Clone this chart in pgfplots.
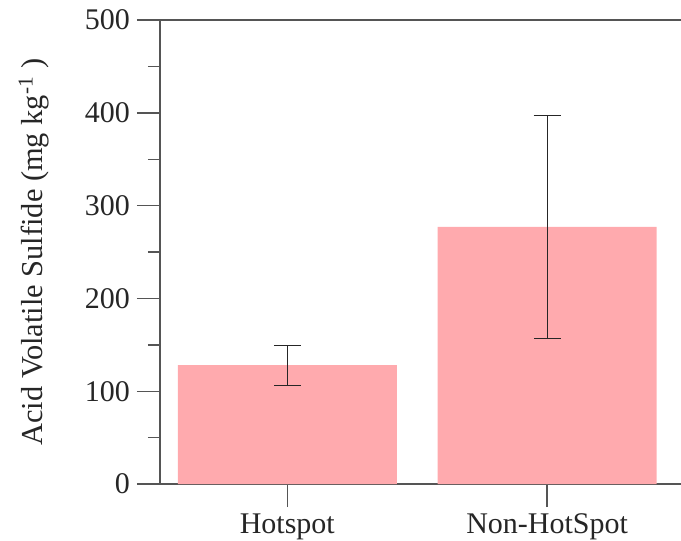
\documentclass[border=0pt]{standalone}
\usepackage{fontspec}
\setmainfont{Liberation Serif}
\usepackage{pgfplots}
\pgfplotsset{compat=1.18}
\definecolor{barpink}{RGB}{255,170,174}
\definecolor{axgray}{RGB}{85,85,85}
\begin{document}
\begin{tikzpicture}
\path[use as bounding box] (-80pt,-28.5pt) rectangle (260.5pt,242pt);
\begin{axis}[
  at={(0,0)}, anchor=south west,
  scale only axis,
  width=260.5pt, height=232pt,
  xmin=-0.49, xmax=1.515,
  ymin=0, ymax=500,
  axis x line*=bottom, axis y line*=left,
  axis line style={axgray, line width=0.7pt},
  every tick/.style={axgray, line width=0.7pt},
  tick align=outside,
  major tick length=11.5pt, minor tick length=6pt,
  xtick={0,1}, xticklabels={Hotspot,Non-HotSpot},
  ytick={0,100,200,300,400,500},
  minor y tick num=1,
  tick label style={font=\fontsize{15}{18}\selectfont, text=black!85},
  /pgf/number format/assume math mode=true,
  ylabel={Acid Volatile Sulfide (mg kg\textsuperscript{-1} )},
  ylabel style={font=\fontsize{15.2}{18}\selectfont, text=black!85, at={(axis description cs:-0.2246,0.5)}, anchor=base, rotate=0},
  clip=false,
]
\addplot[ybar, bar width=109.5pt, fill=barpink, draw=none,
  error bars/.cd, y dir=both, y explicit,
  error bar style={black!85, line width=0.65pt},
  error mark options={rotate=90, mark size=6.75pt, black!85, line width=0.65pt}]
  coordinates {(0,128) +- (0,21.5) (1,277) +- (0,120)};
\draw[axgray, line width=0.7pt] (rel axis cs:0,1) -- (rel axis cs:1,1);
\end{axis}
\end{tikzpicture}
\end{document}
